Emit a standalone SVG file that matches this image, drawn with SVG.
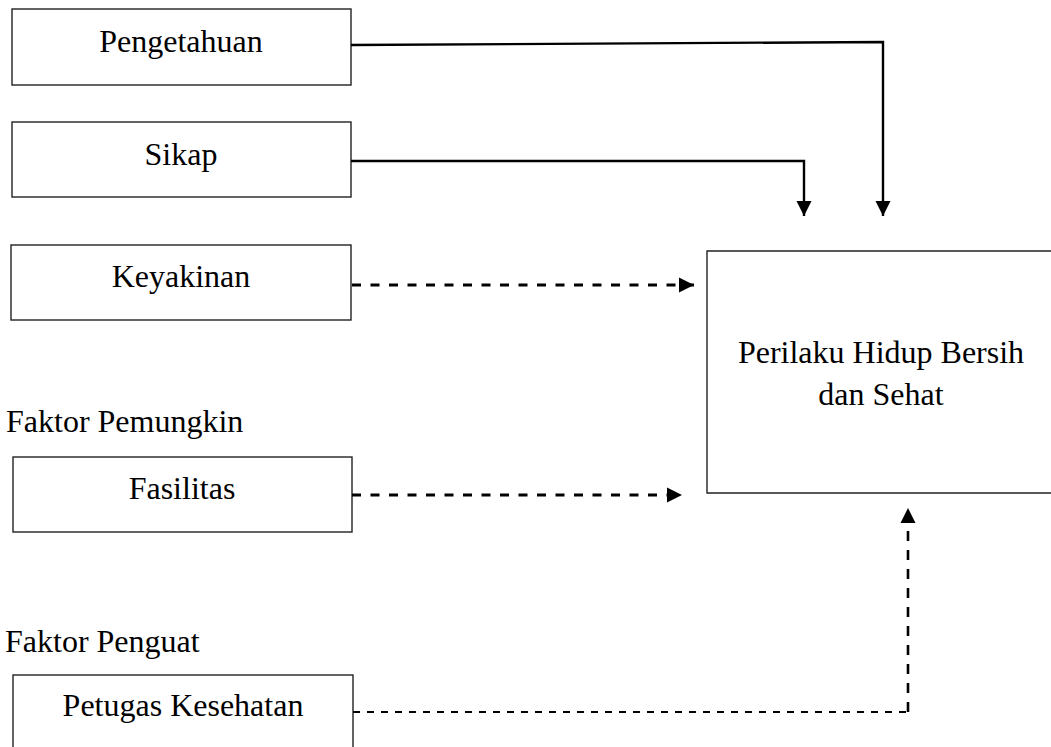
<svg xmlns="http://www.w3.org/2000/svg" width="1051" height="747" viewBox="0 0 1051 747">
<style>
.box{fill:#fff;stroke:#222;stroke-width:1.4}
.t{font-family:"Liberation Serif","Times New Roman","DejaVu Serif",serif;font-size:32px;fill:#000}
.c{text-anchor:middle}
.solid{fill:none;stroke:#000;stroke-width:2.4}
.dash{fill:none;stroke:#000;stroke-width:3;stroke-dasharray:9 9.5}
.dash2{fill:none;stroke:#000;stroke-width:2.2;stroke-dasharray:7 7}
.dash3{fill:none;stroke:#000;stroke-width:2.6;stroke-dasharray:10 9}
</style>
<defs>
<marker id="ah" viewBox="0 0 10 10" refX="10" refY="5" markerWidth="15" markerHeight="16" markerUnits="userSpaceOnUse" orient="auto">
<path d="M0,0 L10,5 L0,10 z" fill="#000"/>
</marker>
</defs>
<rect width="1051" height="747" fill="#fff"/>
<g id="n-pengetahuan"><rect class="box" x="12" y="9" width="339" height="76"/><text class="t c" x="181" y="52" font-family="Liberation Serif, serif">Pengetahuan</text></g>
<g id="n-sikap"><rect class="box" x="12" y="122" width="339" height="75"/><text class="t c" x="181" y="165" font-family="Liberation Serif, serif">Sikap</text></g>
<g id="n-keyakinan"><rect class="box" x="11" y="245" width="340" height="75"/><text class="t c" x="181" y="287" font-family="Liberation Serif, serif">Keyakinan</text></g>
<g id="n-faktor-pemungkin"><text class="t" x="6" y="432" font-family="Liberation Serif, serif">Faktor Pemungkin</text></g>
<g id="n-fasilitas"><rect class="box" x="13" y="457" width="339" height="75"/><text class="t c" x="182" y="499" font-family="Liberation Serif, serif">Fasilitas</text></g>
<g id="n-faktor-penguat"><text class="t" x="5" y="652" font-family="Liberation Serif, serif">Faktor Penguat</text></g>
<g id="n-petugas"><rect class="box" x="13" y="675" width="340" height="90"/><text class="t c" x="183" y="716" font-family="Liberation Serif, serif">Petugas Kesehatan</text></g>
<g id="n-phbs"><path class="box" d="M1060,251 H707 V493 H1060"/><text class="t c" x="881" y="363" font-family="Liberation Serif, serif">Perilaku Hidup Bersih</text><text class="t c" x="881" y="405" font-family="Liberation Serif, serif">dan Sehat</text></g>
<g id="connectors">
<path class="solid" d="M351,45 L883,42 V216" marker-end="url(#ah)"/>
<path class="solid" d="M351,161 H804 V216" marker-end="url(#ah)"/>
<path class="dash" d="M352,285 H694" marker-end="url(#ah)"/>
<path class="dash" d="M352,495 H682" marker-end="url(#ah)"/>
<path class="dash2" d="M353,712 H908"/>
<path class="dash3" d="M908,712 V508" marker-end="url(#ah)"/>
</g>
</svg>
